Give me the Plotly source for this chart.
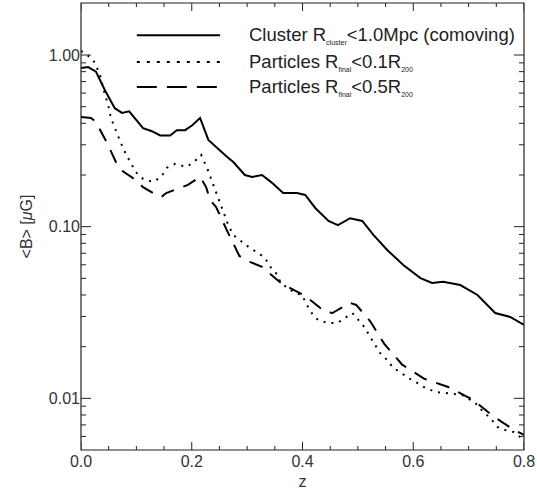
import plotly.graph_objects as go

# redshift / mean field values
z_cluster = [0, 0.013, 0.027, 0.043, 0.061, 0.074, 0.087, 0.099, 0.112, 0.128, 0.143,
             0.161, 0.173, 0.188, 0.201, 0.215, 0.230, 0.264, 0.275, 0.296, 0.309,
             0.327, 0.345, 0.365, 0.390, 0.405, 0.423, 0.447, 0.464, 0.486, 0.508,
             0.528, 0.553, 0.582, 0.613, 0.634, 0.654, 0.685, 0.716, 0.748, 0.775, 0.800]
b_cluster = [0.84, 0.85, 0.80, 0.625, 0.49, 0.46, 0.47, 0.42, 0.375, 0.36, 0.34,
             0.34, 0.365, 0.365, 0.39, 0.43, 0.32, 0.255, 0.238, 0.200, 0.195,
             0.200, 0.180, 0.157, 0.157, 0.153, 0.1285, 0.108, 0.102, 0.112, 0.108,
             0.0895, 0.0732, 0.0598, 0.0502, 0.047, 0.0477, 0.0457, 0.040, 0.0314, 0.0298, 0.0268]

z_inner = [0, 0.007, 0.022, 0.034, 0.040, 0.049, 0.054, 0.063, 0.072, 0.081, 0.090,
           0.099, 0.112, 0.130, 0.145, 0.155, 0.170, 0.190, 0.202, 0.217, 0.229,
           0.246, 0.266, 0.275, 0.291, 0.305, 0.320, 0.332, 0.342, 0.351, 0.360,
           0.372, 0.387, 0.399, 0.410, 0.419, 0.428, 0.445, 0.463, 0.477, 0.490,
           0.504, 0.513, 0.522, 0.531, 0.540, 0.553, 0.564, 0.576, 0.591, 0.607,
           0.622, 0.640, 0.654, 0.672, 0.688, 0.703, 0.716, 0.726, 0.739, 0.752,
           0.766, 0.781, 0.800]
b_inner = [1.055, 1.027, 0.935, 0.775, 0.642, 0.511, 0.430, 0.361, 0.307, 0.265, 0.235,
           0.208, 0.190, 0.182, 0.195, 0.220, 0.232, 0.223, 0.235, 0.262, 0.214,
           0.153, 0.102, 0.0895, 0.0815, 0.0751, 0.0703, 0.0658, 0.0583, 0.0545, 0.0477,
           0.0440, 0.0411, 0.0400, 0.0340, 0.0306, 0.0286, 0.0275, 0.0275, 0.0294, 0.0314,
           0.0279, 0.0257, 0.0228, 0.0205, 0.0184, 0.0167, 0.0150, 0.01425, 0.01315, 0.0123,
           0.0115, 0.0109, 0.01075, 0.0106, 0.01047, 0.0098, 0.00916, 0.00834, 0.00769, 0.00681,
           0.00654, 0.00637, 0.00573]

z_outer = [0, 0.018, 0.027, 0.040, 0.049, 0.063, 0.072, 0.099, 0.112, 0.136, 0.145,
           0.154, 0.181, 0.193, 0.215, 0.226, 0.233, 0.244, 0.264, 0.286, 0.305,
           0.327, 0.363, 0.405, 0.441, 0.454, 0.486, 0.497, 0.522, 0.548, 0.580,
           0.620, 0.663, 0.708, 0.746, 0.779, 0.800]
b_outer = [0.435, 0.430, 0.407, 0.342, 0.299, 0.238, 0.214, 0.187, 0.170, 0.153, 0.149,
           0.157, 0.170, 0.175, 0.195, 0.170, 0.143, 0.130, 0.0944, 0.0675, 0.0623,
           0.0583, 0.0464, 0.0395, 0.0319, 0.0314, 0.0360, 0.0350, 0.0282, 0.0207, 0.0157,
           0.0130, 0.01165, 0.0098, 0.0078, 0.00664, 0.00612]

x_ticks = [0.0, 0.2, 0.4, 0.6, 0.8]
x_labels = ['0.0', '0.2', '0.4', '0.6', '0.8']
x_minor = [0.05, 0.1, 0.15, 0.25, 0.3, 0.35, 0.45, 0.5, 0.55, 0.65, 0.7, 0.75]
y_ticks = [0.01, 0.1, 1.0]
y_labels = ['0.01', '0.10', '1.00']
y_minor = [m * d for d in (0.001, 0.01, 0.1) for m in range(2, 10) if m * d > 0.005]

def sub(s):
    return '<sub><span style="font-size:7px">' + s + '</span></sub>'

labels = [
    'Cluster R' + sub('cluster') + '&lt;1.0Mpc (comoving)',
    'Particles R' + sub('final') + '&lt;0.1R' + sub('200'),
    'Particles R' + sub('final') + '&lt;0.5R' + sub('200'),
]

FONT = 'Liberation Sans'
INK = '#222'

fig = go.Figure()
fig.add_trace(go.Scatter(x=z_cluster, y=b_cluster, mode='lines',
                         line=dict(color='black', width=2)))
fig.add_trace(go.Scatter(x=z_inner, y=b_inner, mode='lines',
                         line=dict(color='black', width=2, dash='2px,6px')))
fig.add_trace(go.Scatter(x=z_outer, y=b_outer, mode='lines',
                         line=dict(color='black', width=2, dash='14px,10px')))

# hand-drawn legend, as in the original
legend_y = [0.928, 0.868, 0.812]
legend_dash = ['solid', '3px,7px', '20px,10px']
for yy, dash, text in zip(legend_y, legend_dash, labels):
    fig.add_shape(type='line', xref='paper', yref='paper',
                  x0=0.126, x1=0.314, y0=yy, y1=yy,
                  line=dict(color='black', width=2, dash=dash))
    fig.add_annotation(xref='paper', yref='paper', x=0.375, y=yy,
                       xanchor='left', yanchor='middle', showarrow=False,
                       text=text, font=dict(family=FONT, size=18.5, color=INK))

# frame box and inward ticks on all four sides (axis lines don't show up in the renderer)
fig.add_shape(type='rect', xref='paper', yref='paper', x0=0, x1=1, y0=0, y1=1,
              line=dict(color=INK, width=1.2))
tick_line = dict(color=INK, width=1)
for vals, ln in ((x_ticks, 8), (x_minor, 4)):
    for v in vals:
        for anchor, sign in ((0, 1), (1, -1)):
            fig.add_shape(type='line', xref='x', yref='paper', ysizemode='pixel',
                          yanchor=anchor, x0=v, x1=v, y0=0, y1=sign * ln, line=tick_line)
for vals, ln in ((y_ticks, 10), (y_minor, 5)):
    for v in vals:
        for anchor, sign in ((0, 1), (1, -1)):
            fig.add_shape(type='line', xref='paper', yref='y', xsizemode='pixel',
                          xanchor=anchor, y0=v, y1=v, x0=0, x1=sign * ln, line=tick_line)

fig.update_layout(
    width=537, height=498,
    margin=dict(l=81, r=13, t=3, b=48),
    paper_bgcolor='white', plot_bgcolor='white',
    showlegend=False,
    xaxis=dict(range=[0, 0.8], tickvals=x_ticks, ticktext=x_labels,
               showline=False, ticks='', showgrid=False, zeroline=False,
               tickfont=dict(family=FONT, size=16, color='#333'),
               title=dict(text='z', font=dict(family=FONT, size=16, color='#333'), standoff=6)),
    yaxis=dict(type='log', range=[-2.301, 0.303], tickvals=y_ticks, ticktext=y_labels,
               showline=False, ticks='', showgrid=False, zeroline=False,
               tickfont=dict(family=FONT, size=16, color='#333'),
               title=dict(text='&lt;B&gt; [<i>μ</i>G]', font=dict(family=FONT, size=16, color='#333'),
                          standoff=12)),
)

fig.write_html("out.html", config={'displayModeBar': False},
               post_script="document.body.style.margin='0';")
